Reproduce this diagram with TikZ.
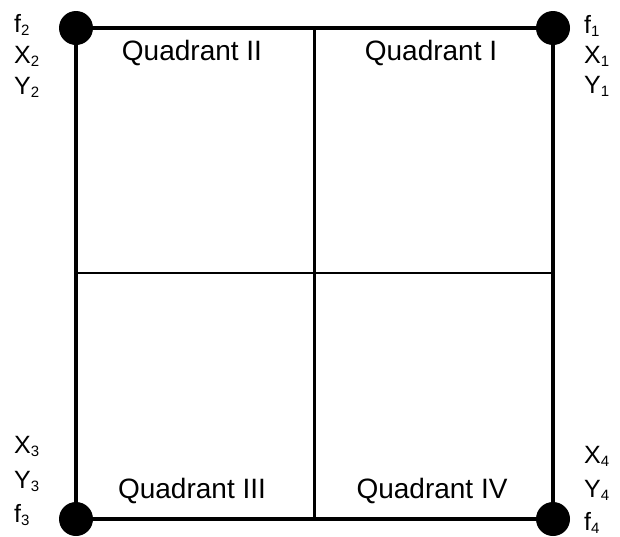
\documentclass[tikz,border=0pt]{standalone}
\usepackage{fontspec}
\setmainfont{Liberation Sans}
\newcommand{\vsub}[1]{\raisebox{-0.3ex}{\fontsize{15}{15}\selectfont #1}}
\begin{document}
\begin{tikzpicture}[x=1pt,y=-1pt,
    corner/.style={circle,fill=black,inner sep=0pt,minimum size=34pt},
    qlabel/.style={anchor=base,font=\fontsize{28}{30}\selectfont},
    vlabel/.style={anchor=base west,inner sep=0pt,font=\fontsize{25}{28}\selectfont}]
  \useasboundingbox (0,0) rectangle (620,536);
      \node[corner] (C2) at (76, 28) {};
      \node[corner] (C1) at (553, 28) {};
      \node[corner] (C3) at (76, 519) {};
      \node[corner] (C4) at (553, 519) {};
      \coordinate (T) at (314.5, 28);
      \coordinate (B) at (314.5, 519);
      \coordinate (L) at (76, 273);
      \coordinate (R) at (553, 273);
      \draw[line width=2.2pt] (T) -- (B);
      \draw[line width=2.2pt] (L) -- (R);
      \draw[line width=4.5pt] (C2) -- (C1);
      \draw[line width=4.5pt] (C1) -- (C4);
      \draw[line width=4.5pt] (C4) -- (C3);
      \draw[line width=4.5pt] (C3) -- (C2);
      \node[qlabel] (Q2) at (192, 60) {Quadrant II};
      \node[qlabel] (Q1) at (431, 60) {Quadrant I};
      \node[qlabel] (Q3) at (192, 498) {Quadrant III};
      \node[qlabel] (Q4) at (432, 498) {Quadrant IV};
      \node[vlabel] (f2) at (14, 32) {f\vsub{2}};
      \node[vlabel] (X2) at (14, 63) {X\vsub{2}};
      \node[vlabel] (Y2) at (14, 94) {Y\vsub{2}};
      \node[vlabel] (f1) at (584, 33) {f\vsub{1}};
      \node[vlabel] (X1) at (584, 63) {X\vsub{1}};
      \node[vlabel] (Y1) at (584, 93) {Y\vsub{1}};
      \node[vlabel] (X3) at (14, 453) {X\vsub{3}};
      \node[vlabel] (Y3) at (14, 488) {Y\vsub{3}};
      \node[vlabel] (f3) at (14, 522) {f\vsub{3}};
      \node[vlabel] (X4) at (584, 463) {X\vsub{4}};
      \node[vlabel] (Y4) at (584, 497) {Y\vsub{4}};
      \node[vlabel] (f4) at (584, 530) {f\vsub{4}};
\end{tikzpicture}
\end{document}
